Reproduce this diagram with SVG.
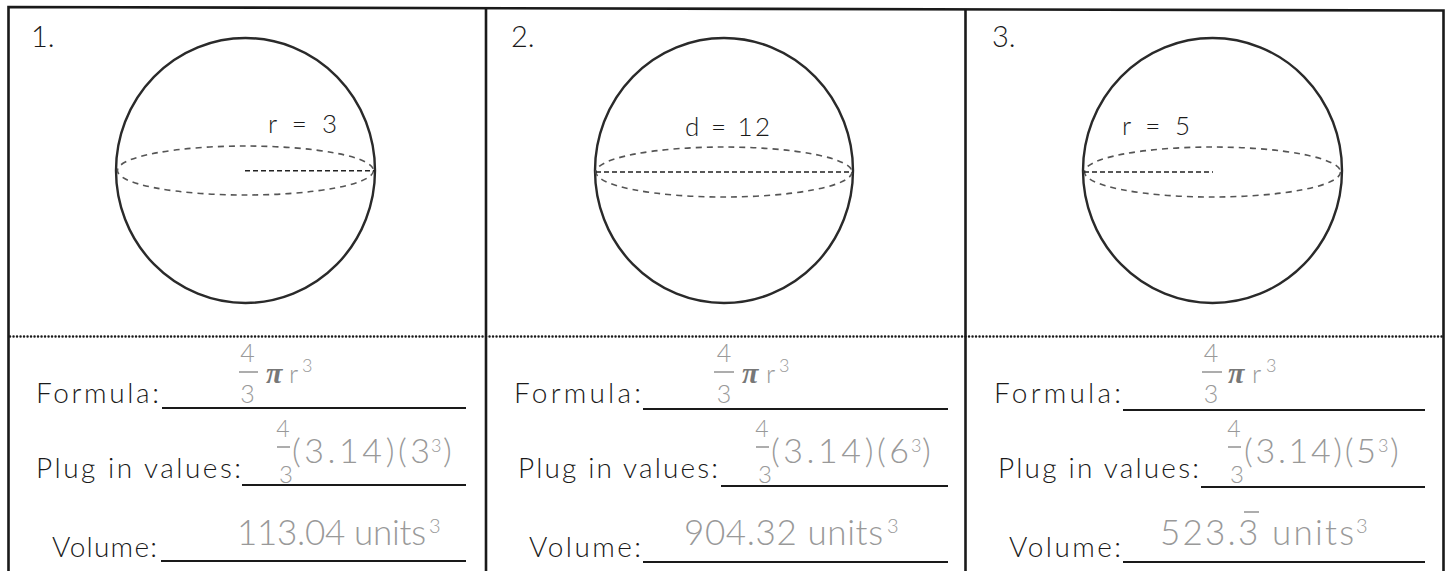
<svg xmlns="http://www.w3.org/2000/svg" width="1448" height="571" viewBox="0 0 1448 571">
<style>
  .frame { fill: none; stroke: #1a1a1a; stroke-width: 2.6; }
  .dots { fill: none; stroke: #1a1a1a; stroke-width: 2.4; stroke-dasharray: 0.1 3.4; stroke-linecap: round; }
  .sphere { fill: none; stroke: #2a2a2a; stroke-width: 2.4; }
  .equator { fill: none; stroke: #555; stroke-width: 1.6; stroke-dasharray: 6 5; }
  .radius { fill: none; stroke: #222; stroke-width: 1.6; stroke-dasharray: 5 3; }
  .uline { fill: none; stroke: #1a1a1a; stroke-width: 2.2; }
  .lbl { font-family: "Lato", "Liberation Sans", sans-serif; font-weight: 300; fill: #1a1a1a; }
  .num { font-size: 29px; }
  .dim { font-size: 26px; }
  .field { font-size: 28px; }
  .tr { font-family: "Lato", "Liberation Sans", sans-serif; font-weight: 300; fill: #999; }
  .pi { font-family: "Liberation Serif", serif; font-weight: bold; font-style: italic; fill: #777; font-size: 30px; }
  .bar { stroke: #999; stroke-width: 1.6; }
</style>

<g id="frame">
  <path class="frame" d="M8.5 571 L8.5 7 L1443.5 10.5 L1443.5 571"/>
  <line class="frame" x1="486" y1="8" x2="486" y2="571"/>
  <line class="frame" x1="965.5" y1="9" x2="965.5" y2="571"/>
  <line class="dots" x1="10" y1="336.5" x2="1442" y2="336.5"/>
</g>

<g id="sphere1">
  <text class="lbl num" x="31" y="47">1.</text>
  <ellipse class="sphere" cx="245.5" cy="170.5" rx="129.5" ry="132.5"/>
  <ellipse class="equator" cx="245.5" cy="170.5" rx="128" ry="24.5"/>
  <line class="radius" x1="245" y1="170.7" x2="375" y2="170.7"/>
  <text class="lbl dim" x="268" y="133" textLength="69">r = 3</text>
</g>

<g id="sphere2">
  <text class="lbl num" x="511" y="47">2.</text>
  <ellipse class="sphere" cx="724" cy="170.5" rx="129" ry="132.5"/>
  <ellipse class="equator" cx="724" cy="172" rx="128" ry="25"/>
  <line class="radius" x1="596" y1="172" x2="853" y2="172"/>
  <text class="lbl dim" x="685" y="136" textLength="85">d = 12</text>
</g>

<g id="sphere3">
  <text class="lbl num" x="992" y="47">3.</text>
  <ellipse class="sphere" cx="1212.5" cy="170.5" rx="129.5" ry="132.5"/>
  <ellipse class="equator" cx="1212.5" cy="172" rx="128" ry="25"/>
  <line class="radius" x1="1084" y1="172" x2="1213" y2="172"/>
  <text class="lbl dim" x="1122" y="135" textLength="68">r = 5</text>
</g>

<g id="work1">
  <text class="lbl field" x="36" y="403" textLength="123">Formula:</text>
  <line class="uline" x1="162" y1="408" x2="466" y2="408"/>
  <text class="tr" x="247.5" y="362" font-size="25" text-anchor="middle">4</text>
  <line class="bar" x1="239" y1="372" x2="258" y2="372"/>
  <text class="tr" x="247.5" y="403" font-size="25" text-anchor="middle">3</text>
  <text class="pi" x="266" y="383">π</text>
  <text class="tr" x="289" y="383" font-size="26">r</text>
  <text class="tr" x="302" y="372" font-size="18">3</text>

  <text class="lbl field" x="36" y="478" textLength="205">Plug in values:</text>
  <line class="uline" x1="242" y1="485" x2="466" y2="485"/>
  <text class="tr" x="283" y="437" font-size="23" text-anchor="middle">4</text>
  <line class="bar" x1="277" y1="447" x2="290" y2="447"/>
  <text class="tr" x="286" y="483" font-size="24" text-anchor="middle">3</text>
  <text class="tr" x="292" y="463" font-size="34" textLength="138">(3.14)(3</text>
  <text class="tr" x="431" y="452" font-size="18">3</text>
  <text class="tr" x="443" y="463" font-size="34">)</text>

  <text class="lbl field" x="52" y="557" textLength="105">Volume:</text>
  <line class="uline" x1="161" y1="561" x2="466" y2="561"/>
  <text class="tr" x="237" y="545" font-size="35" textLength="189">113.04 units</text>
  <text class="tr" x="429" y="533" font-size="20">3</text>
</g>

<g id="work2">
  <text class="lbl field" x="514" y="403" textLength="127">Formula:</text>
  <line class="uline" x1="643" y1="409" x2="948" y2="409"/>
  <text class="tr" x="724" y="362" font-size="25" text-anchor="middle">4</text>
  <line class="bar" x1="714" y1="372" x2="734" y2="372"/>
  <text class="tr" x="724" y="403" font-size="25" text-anchor="middle">3</text>
  <text class="pi" x="742" y="383">π</text>
  <text class="tr" x="766" y="383" font-size="26">r</text>
  <text class="tr" x="779" y="372" font-size="18">3</text>

  <text class="lbl field" x="518" y="478" textLength="200">Plug in values:</text>
  <line class="uline" x1="721" y1="486" x2="948" y2="486"/>
  <text class="tr" x="762" y="437" font-size="23" text-anchor="middle">4</text>
  <line class="bar" x1="756" y1="447" x2="769" y2="447"/>
  <text class="tr" x="765" y="483" font-size="24" text-anchor="middle">3</text>
  <text class="tr" x="771" y="463" font-size="34" textLength="138">(3.14)(6</text>
  <text class="tr" x="911" y="452" font-size="18">3</text>
  <text class="tr" x="922" y="463" font-size="34">)</text>

  <text class="lbl field" x="529" y="557" textLength="112">Volume:</text>
  <line class="uline" x1="643" y1="562" x2="948" y2="562"/>
  <text class="tr" x="684" y="545" font-size="35" textLength="199">904.32 units</text>
  <text class="tr" x="887" y="533" font-size="20">3</text>
</g>

<g id="work3">
  <text class="lbl field" x="994" y="403" textLength="127">Formula:</text>
  <line class="uline" x1="1123" y1="410" x2="1425" y2="410"/>
  <text class="tr" x="1211" y="362" font-size="25" text-anchor="middle">4</text>
  <line class="bar" x1="1202" y1="372" x2="1222" y2="372"/>
  <text class="tr" x="1211" y="403" font-size="25" text-anchor="middle">3</text>
  <text class="pi" x="1228" y="383">π</text>
  <text class="tr" x="1252" y="383" font-size="26">r</text>
  <text class="tr" x="1266" y="372" font-size="18">3</text>

  <text class="lbl field" x="998" y="478" textLength="201">Plug in values:</text>
  <line class="uline" x1="1201" y1="487" x2="1425" y2="487"/>
  <text class="tr" x="1234" y="437" font-size="23" text-anchor="middle">4</text>
  <line class="bar" x1="1228" y1="447" x2="1241" y2="447"/>
  <text class="tr" x="1237" y="483" font-size="24" text-anchor="middle">3</text>
  <text class="tr" x="1244" y="463" font-size="34" textLength="132">(3.14)(5</text>
  <text class="tr" x="1378" y="452" font-size="18">3</text>
  <text class="tr" x="1390" y="463" font-size="34">)</text>

  <text class="lbl field" x="1009" y="557" textLength="112">Volume:</text>
  <line class="uline" x1="1123" y1="562" x2="1425" y2="562"/>
  <text class="tr" x="1160" y="545" font-size="35" textLength="194">523.3 units</text>
  <line class="bar" x1="1244" y1="512" x2="1259" y2="512"/>
  <text class="tr" x="1356" y="533" font-size="20">3</text>
</g>
</svg>
